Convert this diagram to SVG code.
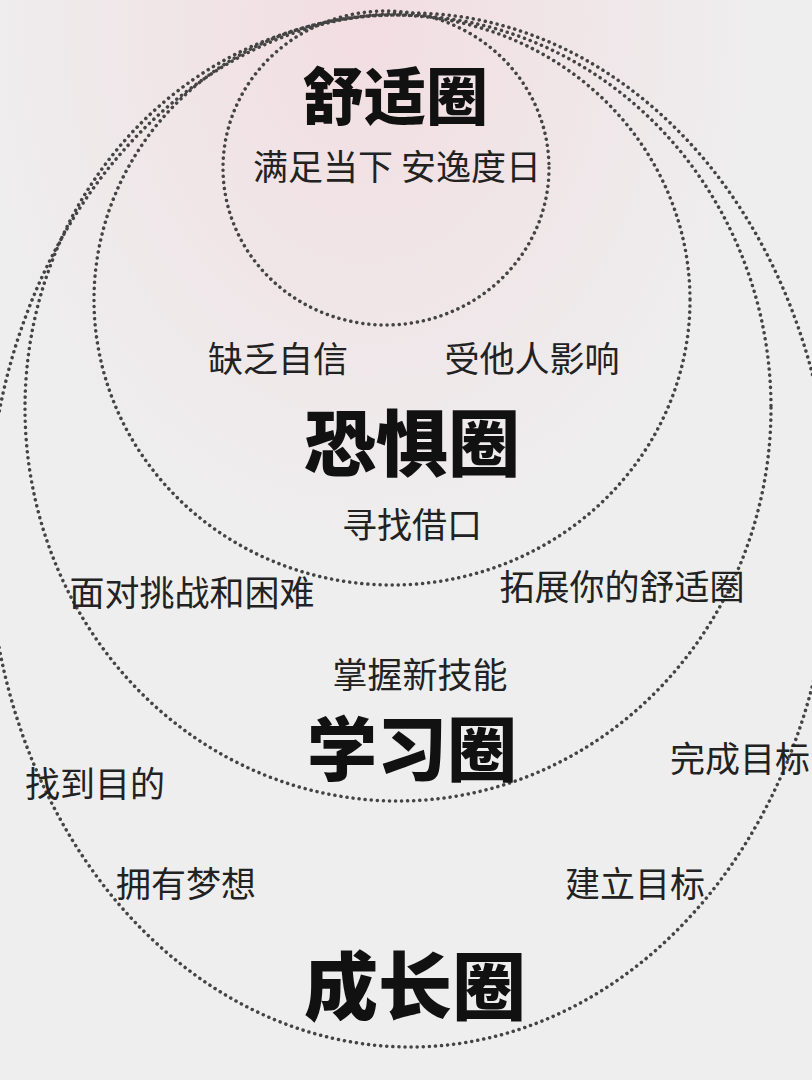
<svg xmlns="http://www.w3.org/2000/svg" width="812" height="1080" viewBox="0 0 812 1080">
<style>
.c{fill:none;stroke:#444;stroke-width:3.5;stroke-dasharray:0.1 6;stroke-linecap:round}
.t{font-family:"Noto Sans CJK SC",sans-serif;font-weight:900;fill:#111;text-anchor:middle}
.l{font-family:"Noto Sans CJK SC",sans-serif;fill:#222;text-anchor:middle;font-size:35px}
</style>
<defs><radialGradient id="g" cx="0.45" cy="0.02" r="0.5"><stop offset="0" stop-color="#f2dde2"/><stop offset="1" stop-color="#eeeeee"/></radialGradient></defs>
<rect width="812" height="1080" fill="url(#g)"/>
<g id="connectors">
<ellipse id="growth-ring" class="c" cx="410" cy="530" rx="422" ry="517"/>
<ellipse id="learning-ring" class="c" cx="398" cy="408" rx="373" ry="393"/>
<ellipse id="fear-ring" class="c" cx="392" cy="300" rx="298" ry="285"/>
<ellipse id="comfort-ring" class="c" cx="386" cy="168" rx="163" ry="157"/>
</g>
<g id="comfort"><text class="t" x="395" y="120" font-size="62">舒适圈</text><text class="l" x="397" y="180">满足当下 安逸度日</text></g>
<g id="fear"><text class="l" x="278" y="372">缺乏自信</text><text class="l" x="532" y="372">受他人影响</text><text class="t" x="412" y="470" font-size="72">恐惧圈</text><text class="l" x="412" y="538">寻找借口</text></g>
<g id="learning"><text class="l" x="192" y="606">面对挑战和困难</text><text class="l" x="622" y="600">拓展你的舒适圈</text><text class="l" x="420" y="688" font-size="40">掌握新技能</text><text class="t" x="412" y="776" font-size="70">学习圈</text></g>
<g id="growth"><text class="l" x="95" y="797" font-size="46">找到目的</text><text class="l" x="740" y="772" font-size="46">完成目标</text><text class="l" x="186" y="897" font-size="46">拥有梦想</text><text class="l" x="635" y="897" font-size="46">建立目标</text><text class="t" x="415" y="1014" font-size="74">成长圈</text></g>
</svg>
